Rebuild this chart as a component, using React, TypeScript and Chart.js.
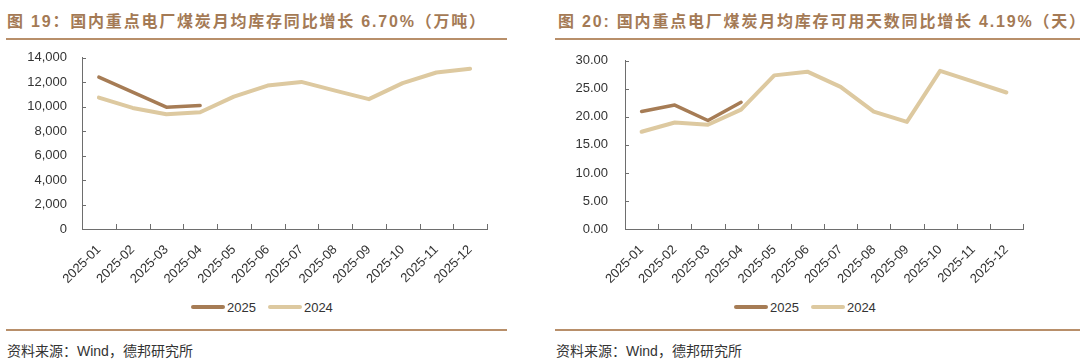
import React, { useEffect, useRef } from "react";
import { Chart, registerables } from "chart.js";

Chart.register(...registerables);

// ---------- data ----------
const MONTHS = [
  "2025-01", "2025-02", "2025-03", "2025-04", "2025-05", "2025-06",
  "2025-07", "2025-08", "2025-09", "2025-10", "2025-11", "2025-12",
];
const SERIES_NAMES = ["2025", "2024"];

const INVENTORY_2025 = [12420, 11200, 9960, 10100];
const INVENTORY_2024 = [10750, 9900, 9390, 9550, 10830, 11730, 12030, 11320, 10620, 11930, 12800, 13100];

const DAYS_2025 = [20.95, 22.1, 19.35, 22.6];
const DAYS_2024 = [17.35, 19.0, 18.6, 21.3, 27.4, 28.06, 25.35, 20.95, 19.1, 28.2, 26.3, 24.35];

const INVENTORY_AXIS = [0, 14000, 2000];
const DAYS_AXIS = [0, 30, 5];

const TITLE_LEFT = "图 19：国内重点电厂煤炭月均库存同比增长 6.70%（万吨）";
const TITLE_RIGHT = "图 20: 国内重点电厂煤炭月均库存可用天数同比增长 4.19%（天）";
const SOURCE = "资料来源：Wind，德邦研究所";

// ---------- style ----------
const C_2025 = "#A67C55";
const C_2024 = "#DDC9A0";
const AXIS = "#6e6e6e";
const TEXT = "#333333";
const BRAND = "#A47A55";
const RULE = "#B88F6A";
const LATIN = '"Liberation Sans", Arial, sans-serif';
const CJK = '"Liberation Sans", "Noto Sans CJK SC", sans-serif';

const innerTicks = {
  id: "innerTicks",
  afterDraw(chart: any) {
    const { ctx } = chart;
    const x = chart.scales.x;
    const y = chart.scales.y;
    const n = chart.data.labels.length;
    ctx.save();
    ctx.strokeStyle = AXIS;
    ctx.lineWidth = 1;
    ctx.beginPath();
    for (let i = 0; i <= n; i++) {
      const px = Math.round(x.getPixelForValue(i - 0.5)) + 0.5;
      ctx.moveTo(px, y.bottom);
      ctx.lineTo(px, y.bottom - 5);
    }
    y.ticks.forEach((t: any) => {
      const py = Math.round(y.getPixelForValue(t.value)) + 0.5;
      ctx.moveTo(x.left, py);
      ctx.lineTo(x.left + 4, py);
    });
    ctx.stroke();
    ctx.restore();
  },
};

type Geo = {
  left: number; top: number; width: number; height: number;
  yWidth: number; xHeight: number; padTop: number; padRight: number; yPad: number;
};

function LineChart(props: {
  a: number[]; b: number[]; axis: number[]; fmt: (v: number) => string; geo: Geo;
}) {
  const ref = useRef<HTMLCanvasElement>(null);
  const { a, b, axis, fmt, geo } = props;
  useEffect(() => {
    const chart = new Chart(ref.current as HTMLCanvasElement, {
      type: "line",
      data: {
        labels: MONTHS,
        datasets: [
          {
            label: SERIES_NAMES[0], data: a, borderColor: C_2025, backgroundColor: C_2025,
            borderWidth: 3.5, pointRadius: 0, tension: 0, borderCapStyle: "round", borderJoinStyle: "round",
          },
          {
            label: SERIES_NAMES[1], data: b, borderColor: C_2024, backgroundColor: C_2024,
            borderWidth: 4, pointRadius: 0, tension: 0, borderCapStyle: "round", borderJoinStyle: "round",
          },
        ],
      },
      options: {
        animation: false,
        responsive: false,
        devicePixelRatio: 1,
        layout: { padding: { top: geo.padTop, right: geo.padRight, left: 0, bottom: 0 } },
        plugins: { legend: { display: false }, tooltip: { enabled: false } },
        scales: {
          x: {
            offset: true,
            grid: { display: true, drawOnChartArea: false, drawTicks: false, offset: true },
            border: { display: true, color: AXIS, width: 1 },
            ticks: {
              minRotation: 45, maxRotation: 45, autoSkip: false, padding: 13,
              color: TEXT, font: { family: LATIN, size: 13 },
            },
            afterFit: (s: any) => { s.height = geo.xHeight; },
          },
          y: {
            min: axis[0], max: axis[1],
            grid: { display: true, drawOnChartArea: false, drawTicks: false },
            border: { display: true, color: AXIS, width: 1 },
            ticks: {
              stepSize: axis[2], padding: geo.yPad, color: TEXT,
              font: { family: LATIN, size: 13 },
              callback: (v: any) => fmt(Number(v)),
            },
            afterFit: (s: any) => { s.width = geo.yWidth; },
          },
        },
      },
      plugins: [innerTicks],
    } as any);
    return () => chart.destroy();
  }, []);
  return (
    <canvas
      ref={ref}
      width={geo.width}
      height={geo.height}
      style={{ position: "absolute", left: geo.left, top: geo.top, width: geo.width, height: geo.height }}
    />
  );
}

function Legend(props: { x: number }) {
  const items = [
    { name: SERIES_NAMES[0], color: C_2025 },
    { name: SERIES_NAMES[1], color: C_2024 },
  ];
  return (
    <div style={{ position: "absolute", left: props.x, top: 298, height: 18, display: "flex", alignItems: "center", font: `13px ${LATIN}`, color: TEXT }}>
      {items.map((it, i) => (
        <div key={it.name} style={{ display: "flex", alignItems: "center", marginRight: i === 0 ? 12 : 0 }}>
          <div style={{ width: 34, height: 4, background: it.color, borderRadius: 2, marginRight: 2 }} />
          <span>{it.name}</span>
        </div>
      ))}
    </div>
  );
}

function Panel(props: {
  x0: number; ruleW: number; titleX: number; title: string; legendX: number; chart: React.ReactNode;
}) {
  const { x0, ruleW, titleX, title, legendX, chart } = props;
  return (
    <>
      <div style={{
        position: "absolute", left: titleX, top: 8, height: 22, lineHeight: "22px", whiteSpace: "nowrap",
        font: `bold 16px ${CJK}`, color: BRAND, letterSpacing: "1.8px",
      }}>{title}</div>
      <div style={{ position: "absolute", left: x0, top: 38, width: ruleW, height: 2, background: RULE }} />
      {chart}
      <Legend x={legendX} />
      <div style={{ position: "absolute", left: x0, top: 329, width: ruleW, height: 2, background: RULE }} />
      <div style={{
        position: "absolute", left: x0 + 1, top: 340, height: 20, lineHeight: "20px", whiteSpace: "nowrap",
        font: `14px ${CJK}`, color: TEXT,
      }}>{SOURCE}</div>
    </>
  );
}

export default function App() {
  const fmtInv = (v: number) => v.toLocaleString("en-US");
  const fmtDays = (v: number) => v.toFixed(2);
  return (
    <div style={{ position: "fixed", left: 0, top: 0, width: 1080, height: 361, background: "#fff", overflow: "hidden" }}>
      <Panel
        x0={6} ruleW={501} titleX={7} title={TITLE_LEFT} legendX={191}
        chart={
          <LineChart
            a={INVENTORY_2025} b={INVENTORY_2024} axis={INVENTORY_AXIS} fmt={fmtInv}
            geo={{ left: 0, top: 35, width: 507, height: 250, yWidth: 82, xHeight: 56, padTop: 18, padRight: 20, yPad: 15 }}
          />
        }
      />
      <Panel
        x0={555} ruleW={525} titleX={558} title={TITLE_RIGHT} legendX={734}
        chart={
          <LineChart
            a={DAYS_2025} b={DAYS_2024} axis={DAYS_AXIS} fmt={fmtDays}
            geo={{ left: 540, top: 36, width: 540, height: 250, yWidth: 85, xHeight: 57, padTop: 18, padRight: 57, yPad: 17 }}
          />
        }
      />
    </div>
  );
}
